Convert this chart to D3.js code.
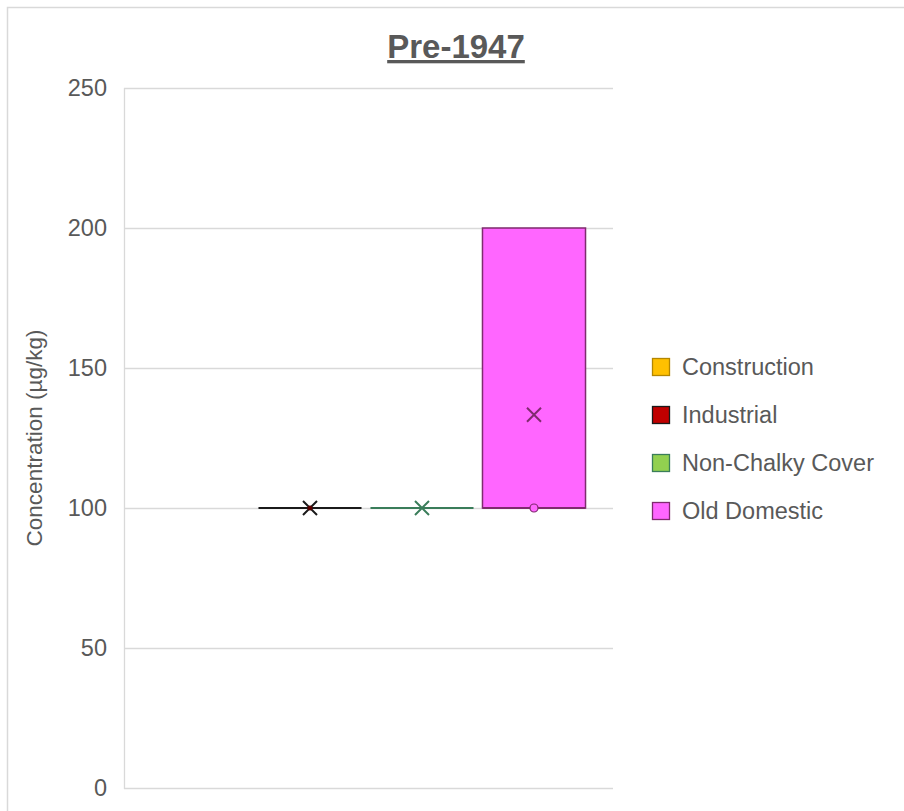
<!DOCTYPE html>
<html>
<head>
<meta charset="utf-8">
<script src="https://cdn.jsdelivr.net/npm/d3@7"></script>
<style>
  html, body { margin: 0; padding: 0; background: #fff; }
  svg { display: block; }
</style>
</head>
<body>
<svg id="chart" width="904" height="811"></svg>
<script>
// ---- Data ----
const title = "Pre-1947";
const yAxisTitle = "Concentration (µg/kg)";
const series = ["Construction", "Industrial", "Non-Chalky Cover", "Old Domestic"];
const fillColors = ["#FFC000", "#C00000", "#92D050", "#FF66FF"];
const strokeColors = ["#B38600", "#1A1A1A", "#3A7D5A", "#7F2B6E"];
// box statistics (null = no data)
const minVals    = [null, 100, 100, 100];
const q1Vals     = [null, 100, 100, 100];
const medianVals = [null, 100, 100, 100];
const q3Vals     = [null, 100, 100, 200];
const maxVals    = [null, 100, 100, 200];
const meanVals   = [null, 100, 100, 133.3];
// inner points shown as circles
const innerPoints = [[], [], [], [100]];
const yTicks = [0, 50, 100, 150, 200, 250];

// ---- Layout ----
const svg = d3.select("#chart");
const plot = { left: 124, right: 613, top: 88, bottom: 788 };
const textColor = "#595959";
const gridColor = "#D9D9D9";
const font = "'Liberation Sans', Arial, sans-serif";

// chart border
svg.append("rect")
  .attr("x", 7.5).attr("y", 7.5)
  .attr("width", 920).attr("height", 830)
  .attr("fill", "#fff").attr("stroke", "#D9D9D9").attr("stroke-width", 1.5);

const y = d3.scaleLinear().domain([0, 250]).range([plot.bottom, plot.top]);
const x = d3.scaleBand().domain(series).range([142, 590]).paddingInner(0.08).paddingOuter(0.04);

// gridlines
svg.append("g").selectAll("line").data(yTicks).join("line")
  .attr("x1", plot.left).attr("x2", plot.right)
  .attr("y1", d => Math.round(y(d)) + 0.5).attr("y2", d => Math.round(y(d)) + 0.5)
  .attr("stroke", gridColor).attr("stroke-width", 1.3);

// left axis line
svg.append("line")
  .attr("x1", plot.left + 0.5).attr("x2", plot.left + 0.5)
  .attr("y1", plot.top).attr("y2", plot.bottom + 1)
  .attr("stroke", gridColor).attr("stroke-width", 1.3);

// y tick labels via axis
const yAxis = d3.axisLeft(y).tickValues(yTicks).tickSize(0).tickPadding(17);
const gAxis = svg.append("g").attr("transform", `translate(${plot.left},0)`).call(yAxis);
gAxis.select(".domain").remove();
gAxis.selectAll("text")
  .attr("fill", textColor).style("font-family", font).style("font-size", "23.5px");

// y axis title
svg.append("text")
  .attr("transform", `translate(42,${(plot.top + plot.bottom) / 2}) rotate(-90)`)
  .attr("text-anchor", "middle")
  .attr("fill", textColor).style("font-family", font).style("font-size", "22.5px")
  .text(yAxisTitle);

// title
svg.append("text")
  .attr("x", 456).attr("y", 58)
  .attr("text-anchor", "middle")
  .attr("fill", textColor).style("font-family", font).style("font-size", "33px")
  .style("font-weight", "bold").style("text-decoration", "underline")
  .text(title);

// boxes
const boxes = svg.append("g");
series.forEach((s, i) => {
  if (q1Vals[i] === null) return;
  const x0 = x(s), w = x.bandwidth(), cx = x0 + w / 2;
  const g = boxes.append("g");
  // whiskers
  g.append("line").attr("x1", cx).attr("x2", cx)
    .attr("y1", y(maxVals[i])).attr("y2", y(q3Vals[i]))
    .attr("stroke", strokeColors[i]).attr("stroke-width", 1.5);
  g.append("line").attr("x1", cx).attr("x2", cx)
    .attr("y1", y(q1Vals[i])).attr("y2", y(minVals[i]))
    .attr("stroke", strokeColors[i]).attr("stroke-width", 1.5);
  // box
  const h = y(q1Vals[i]) - y(q3Vals[i]);
  if (h > 0) {
    g.append("rect").attr("x", x0).attr("y", y(q3Vals[i]))
      .attr("width", w).attr("height", h)
      .attr("fill", fillColors[i]).attr("stroke", strokeColors[i]).attr("stroke-width", 1.5);
  }
  // median
  g.append("line").attr("x1", x0).attr("x2", x0 + w)
    .attr("y1", y(medianVals[i])).attr("y2", y(medianVals[i]))
    .attr("stroke", strokeColors[i]).attr("stroke-width", 2);
  // inner points
  innerPoints[i].forEach(v => {
    g.append("circle").attr("cx", cx).attr("cy", y(v)).attr("r", 4)
      .attr("fill", fillColors[i]).attr("stroke", strokeColors[i]).attr("stroke-width", 1.2);
  });
  // mean marker X
  const my = y(meanVals[i]), r = 7;
  const xPath = `M${cx - r},${my - r}L${cx + r},${my + r}M${cx - r},${my + r}L${cx + r},${my - r}`;
  g.append("path").attr("d", xPath)
    .attr("stroke", strokeColors[i]).attr("stroke-width", 2).attr("fill", "none");
  if (i === 1) {
    g.append("circle").attr("cx", cx).attr("cy", my).attr("r", 2.5).attr("fill", "#5A0000");
  }
});

// legend
const legend = svg.append("g");
series.forEach((s, i) => {
  const ly = 367 + i * 48;
  legend.append("rect").attr("x", 652.5).attr("y", ly - 8.5).attr("width", 17).attr("height", 17)
    .attr("fill", fillColors[i]).attr("stroke", strokeColors[i]).attr("stroke-width", 1.3);
  legend.append("text").attr("x", 682).attr("y", ly).attr("dy", "0.35em")
    .attr("fill", textColor).style("font-family", font).style("font-size", "23.5px")
    .text(s);
});
</script>
</body>
</html>
